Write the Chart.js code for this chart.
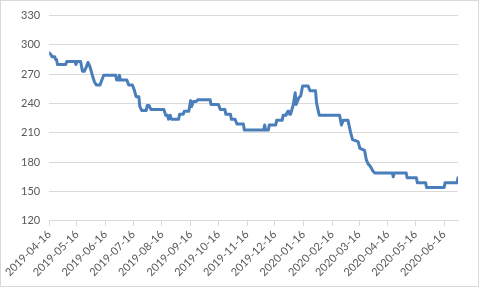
<!DOCTYPE html>
<html>
<head>
<meta charset="utf-8">
<script src="https://cdn.jsdelivr.net/npm/chart.js@4.4.1/dist/chart.umd.min.js"></script>
<style>
  html, body { margin: 0; padding: 0; background: #fff; }
  #wrap { position: relative; width: 481px; height: 289px; }
</style>
</head>
<body>
<div id="wrap"><canvas id="priceChart"></canvas></div>
<script>
// dates where the price changes, with the price on that day
const dates = [
  "2019-04-16", "2019-04-18", "2019-04-19", "2019-04-22", "2019-04-23", "2019-04-24", "2019-04-25",
  "2019-05-04", "2019-05-05", "2019-05-14", "2019-05-15", "2019-05-16", "2019-05-20", "2019-05-22",
  "2019-05-24", "2019-05-26", "2019-05-28", "2019-05-30", "2019-06-02", "2019-06-04", "2019-06-06",
  "2019-06-10", "2019-06-12", "2019-06-14", "2019-06-27", "2019-06-28", "2019-06-30", "2019-07-01",
  "2019-07-02", "2019-07-09", "2019-07-11", "2019-07-15", "2019-07-17", "2019-07-19", "2019-07-22",
  "2019-07-23", "2019-07-25", "2019-07-30", "2019-07-31", "2019-08-02", "2019-08-04", "2019-08-18",
  "2019-08-20", "2019-08-22", "2019-08-23", "2019-08-25", "2019-08-26", "2019-09-03", "2019-09-04",
  "2019-09-08", "2019-09-09", "2019-09-14", "2019-09-16", "2019-09-17", "2019-09-19", "2019-09-22",
  "2019-09-24", "2019-10-07", "2019-10-08", "2019-10-16", "2019-10-18", "2019-10-23", "2019-10-24",
  "2019-10-29", "2019-10-30", "2019-11-03", "2019-11-05", "2019-11-12", "2019-11-13", "2019-12-04",
  "2019-12-05", "2019-12-06", "2019-12-09", "2019-12-10", "2019-12-17", "2019-12-18", "2019-12-24",
  "2019-12-25", "2019-12-28", "2019-12-30", "2019-12-31", "2020-01-01", "2020-01-02", "2020-01-05",
  "2020-01-07", "2020-01-08", "2020-01-11", "2020-01-13", "2020-01-15", "2020-01-21", "2020-01-23",
  "2020-01-29", "2020-01-30", "2020-02-02", "2020-02-24", "2020-02-26", "2020-02-28", "2020-03-04",
  "2020-03-07", "2020-03-09", "2020-03-15", "2020-03-17", "2020-03-22", "2020-03-24", "2020-03-26",
  "2020-03-28", "2020-03-31", "2020-04-02", "2020-04-21", "2020-04-22", "2020-04-23", "2020-05-06",
  "2020-05-07", "2020-05-17", "2020-05-18", "2020-05-27", "2020-05-28", "2020-06-16", "2020-06-17",
  "2020-06-30", "2020-07-01"
];
const prices = [
  292, 290, 288, 288, 285, 285, 280,
  280, 283, 283, 280, 283, 283, 273,
  273, 277, 282, 278, 268, 262, 259,
  259, 264, 269, 269, 264, 264, 269,
  264, 264, 259, 259, 254, 247, 247,
  237, 233, 233, 238, 238, 234, 234,
  228, 228, 224, 228, 224, 224, 229,
  229, 232, 232, 243, 237, 242, 242,
  244, 244, 239, 239, 234, 234, 229,
  229, 224, 224, 219, 219, 213, 213,
  218, 213, 213, 218, 218, 223, 223,
  228, 228, 232, 232, 229, 229, 239,
  251, 239, 246, 248, 258, 258, 253,
  253, 241, 228, 228, 218, 223, 223,
  210, 203, 201, 194, 192, 182, 178,
  176, 171, 169, 169, 165, 169, 169,
  164, 164, 159, 159, 154, 154, 159,
  159, 164
];
const tickLabels = [
  "2019-04-16", "2019-05-16", "2019-06-16", "2019-07-16", "2019-08-16",
  "2019-09-16", "2019-10-16", "2019-11-16", "2019-12-16", "2020-01-16",
  "2020-02-16", "2020-03-16", "2020-04-16", "2020-05-16", "2020-06-16"
];

const DAY = 86400000;
const t0 = Date.parse(dates[0]);
const toDay = (s) => Math.round((Date.parse(s) - t0) / DAY);

const textColor = "#595959";
const gridColor = "#d9d9d9";
const axisFont = { family: "Lato", size: 11 };

// white background + light frame like the spreadsheet chart area
const chartFrame = {
  id: "chartFrame",
  beforeDraw(chart) {
    const ctx = chart.ctx;
    ctx.save();
    ctx.fillStyle = "#fff";
    ctx.fillRect(0, 0, chart.width, chart.height);
    ctx.strokeStyle = gridColor;
    ctx.lineWidth = 1;
    ctx.strokeRect(0.5, 0.5, 478, 286);
    ctx.restore();
  },
};

new Chart(document.getElementById("priceChart"), {
  type: "line",
  data: {
    datasets: [
      {
        data: dates.map((d, i) => ({ x: toDay(d), y: prices[i] })),
        borderColor: "#4a7ebb",
        borderWidth: 3,
        pointRadius: 0,
        tension: 0,
        borderJoinStyle: "round",
        borderCapStyle: "round",
      },
    ],
  },
  options: {
    responsive: true,
    maintainAspectRatio: false,
    animation: false,
    layout: { padding: { left: 12, right: 23, top: 10, bottom: 8 } },
    plugins: {
      legend: { display: false },
      tooltip: { enabled: false },
    },
    scales: {
      x: {
        type: "linear",
        min: 0,
        max: toDay(dates[dates.length - 1]),
        afterBuildTicks: (axis) => {
          axis.ticks = tickLabels.map((s) => ({ value: toDay(s) }));
        },
        grid: { drawOnChartArea: false, drawTicks: true, tickLength: 5, color: gridColor },
        border: { color: gridColor },
        ticks: {
          autoSkip: false,
          minRotation: 45,
          maxRotation: 45,
          padding: 2,
          color: textColor,
          font: axisFont,
          callback: (v) => tickLabels.find((s) => toDay(s) === v),
        },
      },
      y: {
        min: 120,
        max: 330,
        ticks: { stepSize: 30, padding: 9, color: textColor, font: axisFont },
        grid: { color: gridColor, drawTicks: false },
        border: { display: false },
      },
    },
  },
  plugins: [chartFrame],
});
</script>
</body>
</html>
